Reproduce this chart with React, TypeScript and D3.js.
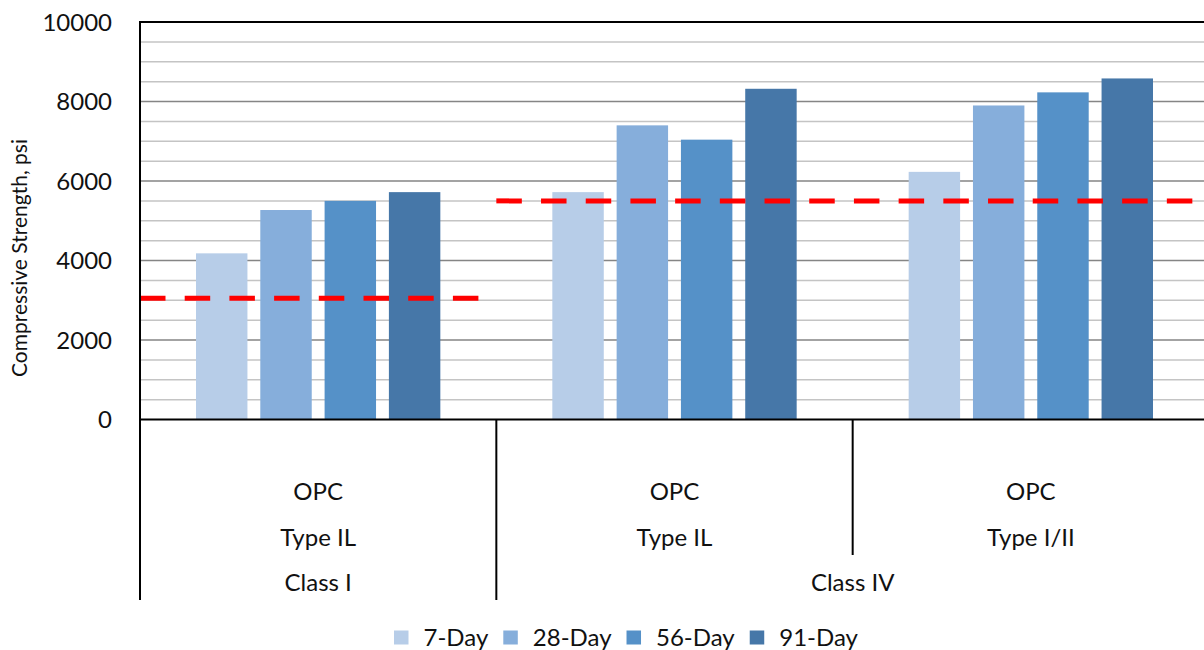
import React, { useEffect, useRef } from "react";
import * as d3 from "d3";

const binders = ["OPC", "OPC", "OPC"];
const cementTypes = ["Type IL", "Type IL", "Type I/II"];
const classNames = ["Class I", "Class IV"];
const classSpans = [1, 2];
const classLimits = [3050, 5500];

const seriesNames = ["7-Day", "28-Day", "56-Day", "91-Day"];
const day7 = [4180, 5720, 6230];
const day28 = [5270, 7400, 7900];
const day56 = [5500, 7040, 8230];
const day91 = [5720, 8320, 8580];
const seriesValues = [day7, day28, day56, day91];
const seriesColors = ["#B7CDE8", "#86AEDB", "#5591C8", "#4677A8"];

const yTicks = [0, 2000, 4000, 6000, 8000, 10000];

const W = 1204;
const H = 650;
const FONT = "Lato, 'Open Sans', sans-serif";

export default function App() {
  const ref = useRef<SVGSVGElement | null>(null);

  useEffect(() => {
    document.body.style.margin = "0";
    const svg = d3.select(ref.current);
    svg.selectAll("*").remove();

    const left = 140, right = 1209, top = 22, bottom = 419.5;
    const x = d3.scaleBand<number>().domain(d3.range(binders.length)).range([left, right]).padding(0);
    const bw = x.bandwidth();
    const x1 = d3.scaleBand<number>().domain(d3.range(seriesNames.length)).range([56, bw - 56]).paddingInner(0.2).paddingOuter(0);
    const y = d3.scaleLinear().domain([0, 10000]).range([bottom, top]);

    // gridlines
    const minor = d3.range(500, 10000, 500).filter((v) => v % 2000 !== 0);
    const major = d3.range(2000, 10000, 2000);
    svg.append("g").selectAll("line").data(minor).join("line")
      .attr("x1", left).attr("x2", right)
      .attr("y1", (d) => y(d)).attr("y2", (d) => y(d))
      .attr("stroke", "#C4C4C4").attr("stroke-width", 1.5);
    svg.append("g").selectAll("line").data(major).join("line")
      .attr("x1", left).attr("x2", right)
      .attr("y1", (d) => y(d)).attr("y2", (d) => y(d))
      .attr("stroke", "#858585").attr("stroke-width", 1.5);

    // bars
    const gBars = svg.append("g");
    seriesValues.forEach((vals, si) => {
      gBars.append("g").selectAll("rect").data(vals).join("rect")
        .attr("x", (_d, i) => (x(i) as number) + (x1(si) as number))
        .attr("width", x1.bandwidth())
        .attr("y", (d) => y(d))
        .attr("height", (d) => y(0) - y(d))
        .attr("fill", seriesColors[si]);
    });

    // class limit lines
    let start = 0;
    classSpans.forEach((span, ci) => {
      const xa = x(start) as number;
      const xb = (x(start + span - 1) as number) + bw;
      svg.append("line")
        .attr("x1", xa).attr("x2", xb)
        .attr("y1", y(classLimits[ci])).attr("y2", y(classLimits[ci]))
        .attr("stroke", "#FF0000").attr("stroke-width", 5)
        .attr("stroke-dasharray", "25.5,19.2");
      start += span;
    });

    // axes frame
    svg.append("line").attr("x1", left - 1).attr("x2", right).attr("y1", top).attr("y2", top)
      .attr("stroke", "#000").attr("stroke-width", 2);
    svg.append("line").attr("x1", left).attr("x2", left).attr("y1", top - 1).attr("y2", 600)
      .attr("stroke", "#000").attr("stroke-width", 2);
    svg.append("line").attr("x1", left).attr("x2", right).attr("y1", bottom).attr("y2", bottom)
      .attr("stroke", "#000").attr("stroke-width", 2);

    // y tick labels
    svg.append("g").selectAll("text").data(yTicks).join("text")
      .attr("x", 112).attr("y", (d) => y(d))
      .attr("dy", "0.36em")
      .attr("text-anchor", "end")
      .attr("font-family", FONT).attr("font-size", 24).attr("fill", "#111")
      .text((d) => String(d));

    // y title
    svg.append("text")
      .attr("transform", `translate(27,${258}) rotate(-90)`)
      .attr("text-anchor", "middle")
      .attr("font-family", FONT).attr("font-size", 21).attr("fill", "#111")
      .text("Compressive Strength, psi");

    // category separators
    d3.range(1, binders.length).forEach((i) => {
      let acc = 0;
      let isClassBoundary = false;
      classSpans.forEach((s) => { acc += s; if (acc === i) isClassBoundary = true; });
      const xx = x(i) as number;
      svg.append("line").attr("x1", xx).attr("x2", xx).attr("y1", bottom).attr("y2", isClassBoundary ? 600 : 555)
        .attr("stroke", "#000").attr("stroke-width", 2);
    });

    // category labels
    const gCat = svg.append("g").attr("font-family", FONT).attr("font-size", 24).attr("fill", "#111").attr("text-anchor", "middle");
    binders.forEach((b, i) => {
      const cx = (x(i) as number) + bw / 2;
      gCat.append("text").attr("x", cx).attr("y", 500).text(b);
      gCat.append("text").attr("x", cx).attr("y", 546).text(cementTypes[i]);
    });
    start = 0;
    classNames.forEach((c, ci) => {
      const xa = x(start) as number;
      const xb = (x(start + classSpans[ci] - 1) as number) + bw;
      gCat.append("text").attr("x", (xa + xb) / 2).attr("y", 591).text(c);
      start += classSpans[ci];
    });

    // legend
    const gLeg = svg.append("g");
    let lx = 394;
    seriesNames.forEach((name, si) => {
      gLeg.append("rect").attr("x", lx).attr("y", 630.5).attr("width", 14.5).attr("height", 14)
        .attr("fill", seriesColors[si]);
      const t = gLeg.append("text").attr("x", lx + 29.5).attr("y", 646)
        .attr("font-family", FONT).attr("font-size", 24).attr("fill", "#111").text(name);
      const w = (t.node() as SVGTextElement).getComputedTextLength();
      lx = lx + 29.5 + w + 15;
    });
  }, []);

  return <svg ref={ref} width={W} height={H} style={{ display: "block", background: "#fff" }} />;
}
